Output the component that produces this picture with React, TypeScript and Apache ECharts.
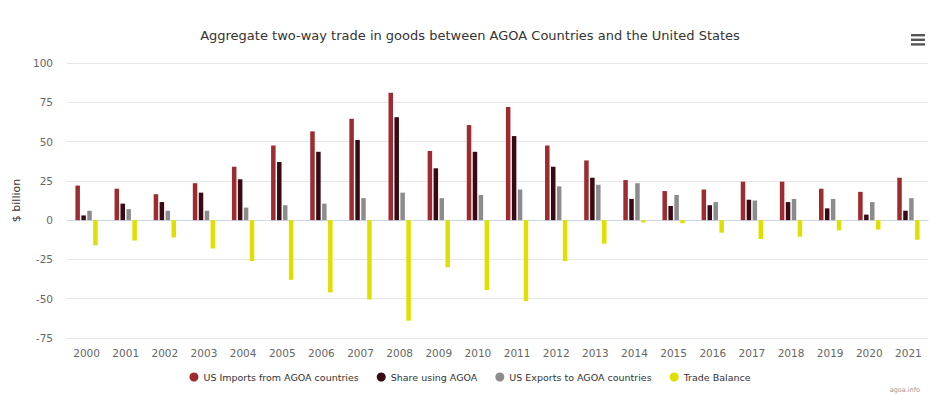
import React, { useEffect, useRef } from "react";
import * as echarts from "echarts";

const years = ["2000","2001","2002","2003","2004","2005","2006","2007","2008","2009","2010","2011","2012","2013","2014","2015","2016","2017","2018","2019","2020","2021"];
const usImports = [22, 20, 16.5, 23.5, 34, 47.5, 56.5, 64.5, 81, 44, 60.5, 72, 47.5, 38, 25.5, 18.5, 19.5, 24.5, 24.5, 20, 18, 27];
const shareAgoa = [3, 10.5, 11.5, 17.5, 26, 37, 43.5, 51, 65.5, 33, 43.5, 53.5, 34, 27, 13.5, 9, 9.5, 13, 11.5, 7.5, 3.5, 6];
const usExports = [6, 7, 6, 6, 8, 9.5, 10.5, 14, 17.5, 14, 16, 19.5, 21.5, 22.5, 23.5, 16, 11.5, 12.5, 13.5, 13.5, 11.5, 14];
const tradeBalance = [-16, -13, -11, -18, -26, -38, -46, -50.5, -64, -30, -44.5, -51.5, -26, -15, -1.5, -2, -8, -12, -10.5, -6.5, -6, -12.5];
const seriesNames = ["US Imports from AGOA countries", "Share using AGOA", "US Exports to AGOA countries", "Trade Balance"];
const seriesColors = ["#9e2b30", "#380a14", "#8c8c8c", "#e0e000"];

const FONT = "DejaVu Sans";

export default function App() {
  const ref = useRef<HTMLDivElement>(null);
  useEffect(() => {
    const chart = echarts.init(ref.current!, null, { renderer: "svg" });
    const data = [usImports, shareAgoa, usExports, tradeBalance];
    chart.setOption({
      animation: false,
      backgroundColor: "#ffffff",
      textStyle: { fontFamily: FONT },
      title: {
        text: "Aggregate two-way trade in goods between AGOA Countries and the United States",
        left: "center",
        top: 24,
        textStyle: { fontFamily: FONT, fontSize: 13, fontWeight: "normal", color: "#333333" },
      },
      legend: {
        bottom: 8,
        left: "center",
        icon: "circle",
        itemWidth: 9,
        itemHeight: 9,
        itemGap: 18,
        textStyle: { fontFamily: FONT, fontSize: 9.5, color: "#333333" },
        data: seriesNames,
      },
      grid: { left: 67, right: 12, top: 63, bottom: 57, containLabel: false },
      xAxis: {
        type: "category",
        data: years,
        axisLine: { lineStyle: { color: "#ccd6eb" } },
        axisTick: { show: false },
        axisLabel: { color: "#666666", fontSize: 10.5, fontFamily: FONT, margin: 9 },
      },
      yAxis: {
        type: "value",
        min: -75,
        max: 100,
        interval: 25,
        name: "$ billion",
        nameLocation: "middle",
        nameGap: 33,
        nameRotate: 90,
        nameTextStyle: { color: "#333333", fontSize: 11, fontFamily: FONT },
        axisLabel: { color: "#666666", fontSize: 10.5, fontFamily: FONT, margin: 14 },
        splitLine: { lineStyle: { color: "#e6e6e6" } },
        axisLine: { show: false },
        axisTick: { show: false },
      },
      series: seriesNames.map((n, i) => ({
        name: n,
        type: "bar",
        data: data[i],
        barWidth: 4.5,
        barGap: "32%",
        itemStyle: { color: seriesColors[i] },
      })),
      graphic: [
        { type: "rect", left: 911, top: 34, shape: { width: 14, height: 2.4 }, style: { fill: "#555555" } },
        { type: "rect", left: 911, top: 38.6, shape: { width: 14, height: 2.4 }, style: { fill: "#555555" } },
        { type: "rect", left: 911, top: 43.2, shape: { width: 14, height: 2.4 }, style: { fill: "#555555" } },
        { type: "text", right: 20, top: 386, style: { text: "agoa.info", fill: "#999999", fontSize: 6.5, fontFamily: FONT } },
      ],
    });
    return () => chart.dispose();
  }, []);
  return <div ref={ref} style={{ position: "fixed", left: 0, top: 0, width: 940, height: 395 }} />;
}
